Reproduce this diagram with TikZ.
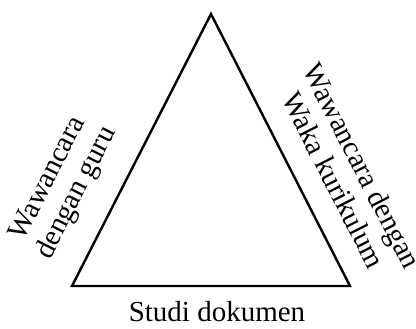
\documentclass[tikz,border=0pt]{standalone}
\usepackage{fontspec}
\setmainfont{Liberation Serif}
\usepackage{tikz}
\usetikzlibrary{positioning,calc}
\tikzset{
    every node/.style={font=\fontsize{29}{32}\selectfont},
    sidelabel/.style={align=center,inner sep=0pt},
    baselabel/.style={inner sep=0pt},
    triline/.style={draw=black,line width=2.4pt,line join=miter}
}

\begin{document}
\begin{tikzpicture}[x=1pt,y=-1pt]
\useasboundingbox (0,0) rectangle (416,329);
\coordinate (apex) at (211,14);
\coordinate (leftcorner) at (72,286);
\coordinate (rightcorner) at (350,286);
\draw[triline] (apex) -- (leftcorner) -- (rightcorner) -- cycle;
\node[sidelabel,rotate=63] (guru) at (63,186) {Wawancara\\dengan guru};
\node[sidelabel,rotate=-63] (waka) at (348,173) {Wawancara dengan\\Waka kurikulum};
\node[baselabel] (studi) at (217,312) {Studi dokumen};
\end{tikzpicture}
\end{document}
